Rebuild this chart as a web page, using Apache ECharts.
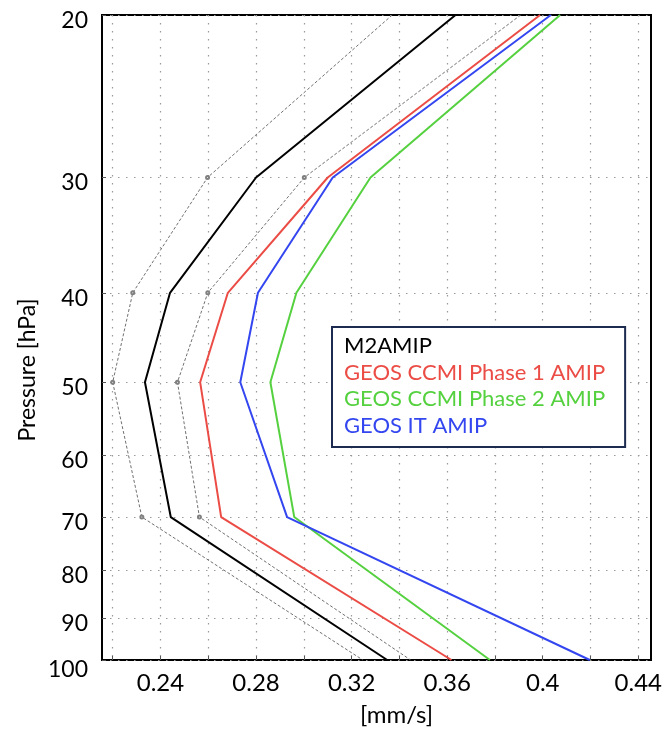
<!DOCTYPE html>
<html>
<head>
<meta charset="utf-8">
<script src="https://cdn.jsdelivr.net/npm/echarts@6/dist/echarts.min.js"></script>
<style>
html,body{margin:0;padding:0;background:#fff;}
#chart{width:667px;height:735px;}
</style>
</head>
<body>
<div id="chart"></div>
<script>
// ---- data ----
const pressure   = [20, 30, 40, 50, 70, 100];           // hPa
const m2amip     = [0.3635, 0.2800, 0.2440, 0.2335, 0.2443, 0.3349];
const m2amipLow  = [0.3370, 0.2597, 0.2284, 0.2200, 0.2322, 0.3247];
const m2amipHigh = [0.3908, 0.3002, 0.2598, 0.2471, 0.2563, 0.3447];
const ccmi1      = [0.3989, 0.3100, 0.2682, 0.2566, 0.2654, 0.3618];
const ccmi2      = [0.4073, 0.3279, 0.2969, 0.2860, 0.2960, 0.3779];
const geosit     = [0.4034, 0.3121, 0.2808, 0.2734, 0.2930, 0.4197];

const seriesNames = ['M2AMIP', 'GEOS CCMI Phase 1 AMIP', 'GEOS CCMI Phase 2 AMIP', 'GEOS IT AMIP'];
const seriesColors = ['#000000', '#eb4c45', '#55d13f', '#3346f0'];

const xGridValues = [0.22, 0.24, 0.26, 0.28, 0.30, 0.32, 0.34, 0.36, 0.38, 0.40, 0.42, 0.44];
const xLabelValues = [0.24, 0.28, 0.32, 0.36, 0.40, 0.44];
const yTickValues = [20, 30, 40, 50, 60, 70, 80, 90, 100];

const FONT = 'Lato';

function pairs(xs) { return xs.map((x, i) => [x, pressure[i]]); }
function dashedPairs(xs) {
  return xs.map((x, i) => {
    const item = { value: [x, pressure[i]] };
    if (i === 0 || i === xs.length - 1) item.symbol = 'none';
    return item;
  });
}

const gridDot = { color: '#9a9a9a', width: 1.2, type: [1.5, 6.5] };

const chart = echarts.init(document.getElementById('chart'), null, { renderer: 'canvas' });

const solidSeries = [m2amip, ccmi1, ccmi2, geosit].map((arr, k) => ({
  name: seriesNames[k],
  type: 'line',
  data: pairs(arr),
  showSymbol: false,
  symbol: 'none',
  lineStyle: { color: seriesColors[k], width: 2 },
  itemStyle: { color: seriesColors[k] },
  z: 5 + k,
  animation: false
}));

const dashedSeries = [m2amipLow, m2amipHigh].map((arr, k) => ({
  name: 'M2AMIP bound ' + k,
  type: 'line',
  data: dashedPairs(arr),
  symbol: 'emptyCircle',
  symbolSize: 3,
  lineStyle: { color: '#707070', width: 1, type: [3, 2] },
  itemStyle: { color: '#808080', borderWidth: 1 },
  z: 3,
  animation: false
}));

chart.setOption({
  animation: false,
  backgroundColor: '#ffffff',
  textStyle: { fontFamily: FONT },
  grid: {
    left: 102, right: 16, top: 15, bottom: 75,
    show: true, borderColor: '#000', borderWidth: 2, backgroundColor: 'transparent',
    containLabel: false
  },
  xAxis: {
    type: 'value',
    min: 0.21552,
    max: 0.44532,
    axisLine: { show: false },
    axisTick: { show: true, inside: true, length: 4, customValues: xGridValues, lineStyle: { color: '#555' } },
    splitLine: { show: true, lineStyle: gridDot },
    axisLabel: {
      customValues: xLabelValues,
      color: '#000', fontSize: 24, fontFamily: FONT, margin: 11,
      formatter: v => String(+v.toFixed(2))
    }
  },
  yAxis: {
    type: 'log',
    logBase: 10,
    min: 20,
    max: 100,
    inverse: true,
    axisLine: { show: false },
    axisTick: { show: true, inside: true, length: 4, customValues: yTickValues, lineStyle: { color: '#555' } },
    splitLine: { show: true, lineStyle: gridDot },
    axisLabel: {
      customValues: yTickValues,
      color: '#000', fontSize: 23, fontFamily: FONT, margin: 14,
      formatter: v => (Math.round(v) === 100 ? '{l|100}' : '{n|' + Math.round(v) + '}'),
      rich: {
        n: { fontSize: 23, fontFamily: FONT, color: '#000', padding: [11, 0, 0, 0] },
        l: { fontSize: 23, fontFamily: FONT, color: '#000', padding: [19, 0, 0, 0] }
      }
    }
  },
  legend: {
    show: true,
    orient: 'vertical',
    left: 332,
    top: 327,
    selectedMode: false,
    icon: 'none',
    itemWidth: 0,
    itemHeight: 0,
    itemGap: 0,
    padding: [6, 20, 8, 7],
    borderColor: '#1c2b4f',
    borderWidth: 2,
    backgroundColor: '#ffffff',
    textStyle: { fontFamily: FONT, fontSize: 22, lineHeight: 26.5 },
    data: seriesNames.map((n, k) => ({ name: n, icon: 'none', textStyle: { color: seriesColors[k], fontFamily: FONT, fontSize: 22, lineHeight: 26.5 } }))
  },
  graphic: [
    {
      type: 'text',
      left: 360, top: 703,
      style: { text: '[mm/s]', fontFamily: FONT, fontSize: 24, fill: '#000' }
    },
    {
      type: 'text',
      x: 28, y: 370, rotation: Math.PI / 2,
      style: { text: 'Pressure [hPa]', fontFamily: FONT, fontSize: 23, fill: '#000', align: 'center', verticalAlign: 'middle' }
    }
  ],
  series: [...dashedSeries, ...solidSeries]
});
</script>
</body>
</html>
